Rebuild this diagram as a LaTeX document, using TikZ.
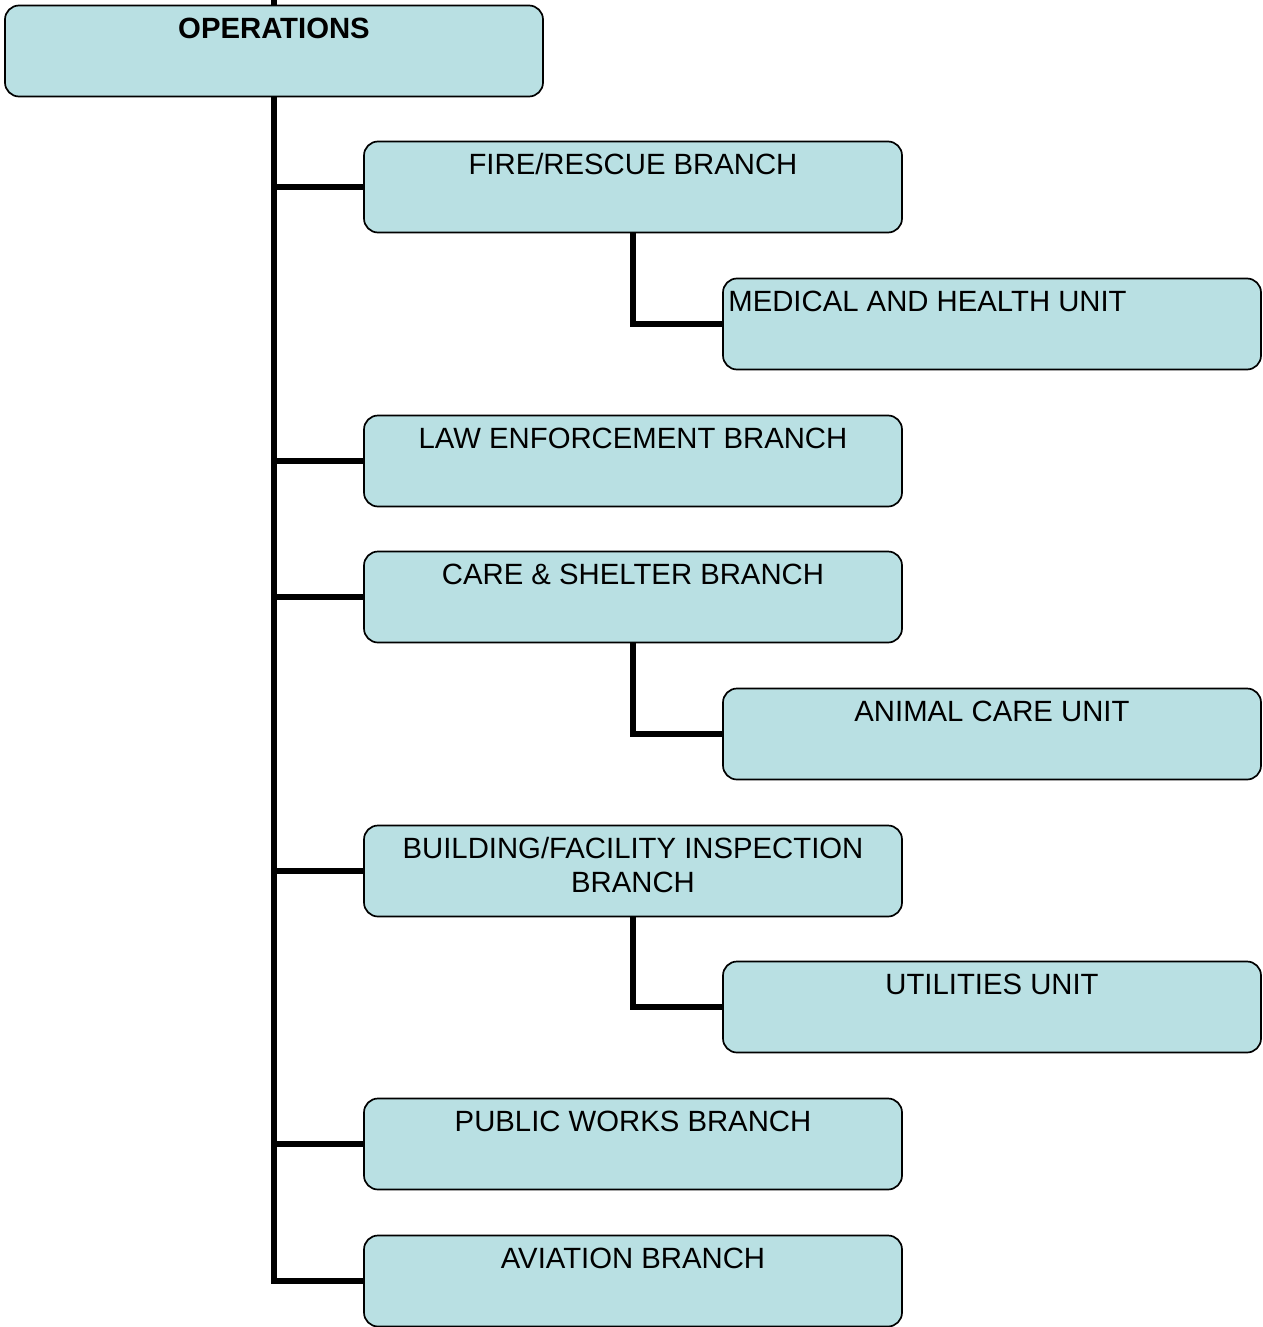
\documentclass[tikz,border=0pt]{standalone}
\usepackage{fontspec}
\setmainfont{Liberation Sans}
\usetikzlibrary{positioning,backgrounds}
\definecolor{boxBlue}{HTML}{B9E0E3}

\begin{document}
\begin{tikzpicture}[x=1pt,y=-1pt,
      bx/.style={rounded corners=14pt, draw=black, line width=1.7pt, fill=boxBlue,
                 minimum width=538pt, minimum height=91pt, inner sep=0pt},
      tx/.style={anchor=base, inner sep=0pt, align=center,
                 font=\fontsize{29.3}{34}\selectfont},
      conn/.style={line width=5.5pt}]
    \useasboundingbox (0,0) rectangle (1262,1327);
    \coordinate (top) at (274,0);
    \node[bx] (op) at (274,51)   {};
    \node[bx] (fi) at (633,187)  {};
    \node[bx] (me) at (992,324)  {};
    \node[bx] (la) at (633,461)  {};
    \node[bx] (ca) at (633,597)  {};
    \node[bx] (an) at (992,734)  {};
    \node[bx] (bu) at (633,871)  {};
    \node[bx] (ut) at (992,1007) {};
    \node[bx] (pu) at (633,1144) {};
    \node[bx] (av) at (633,1281) {};
    % connectors behind the boxes
    \begin{scope}[on background layer]
      \draw[conn] (top) -- (op.north);
      \foreach \b in {fi,la,ca,bu,pu,av}
        {\draw[conn] (op.south) |- (\b.west);}
      \foreach \a/\b in {fi/me,ca/an,bu/ut}
        {\draw[conn] (\a.south) |- (\b.west);}
    \end{scope}
    \node[tx, font=\fontsize{29.3}{34}\selectfont\bfseries] at ([yshift=-33.5pt]op.north) {OPERATIONS};
    \node[tx] at ([yshift=-33.5pt]fi.north) {FIRE/RESCUE BRANCH};
    \node[tx, anchor=base west] at ([xshift=6pt,yshift=-33.5pt]me.north west) {MEDICAL AND HEALTH UNIT};
    \node[tx] at ([yshift=-33.5pt]la.north) {LAW ENFORCEMENT BRANCH};
    \node[tx] at ([yshift=-33.5pt]ca.north) {CARE \& SHELTER BRANCH};
    \node[tx] at ([yshift=-33.5pt]an.north) {ANIMAL CARE UNIT};
    \node[tx] at ([yshift=-67.5pt]bu.north) {BUILDING/FACILITY INSPECTION\\BRANCH};
    \node[tx] at ([yshift=-33.5pt]ut.north) {UTILITIES UNIT};
    \node[tx] at ([yshift=-33.5pt]pu.north) {PUBLIC WORKS BRANCH};
    \node[tx] at ([yshift=-33.5pt]av.north) {AVIATION BRANCH};
\end{tikzpicture}
\end{document}
